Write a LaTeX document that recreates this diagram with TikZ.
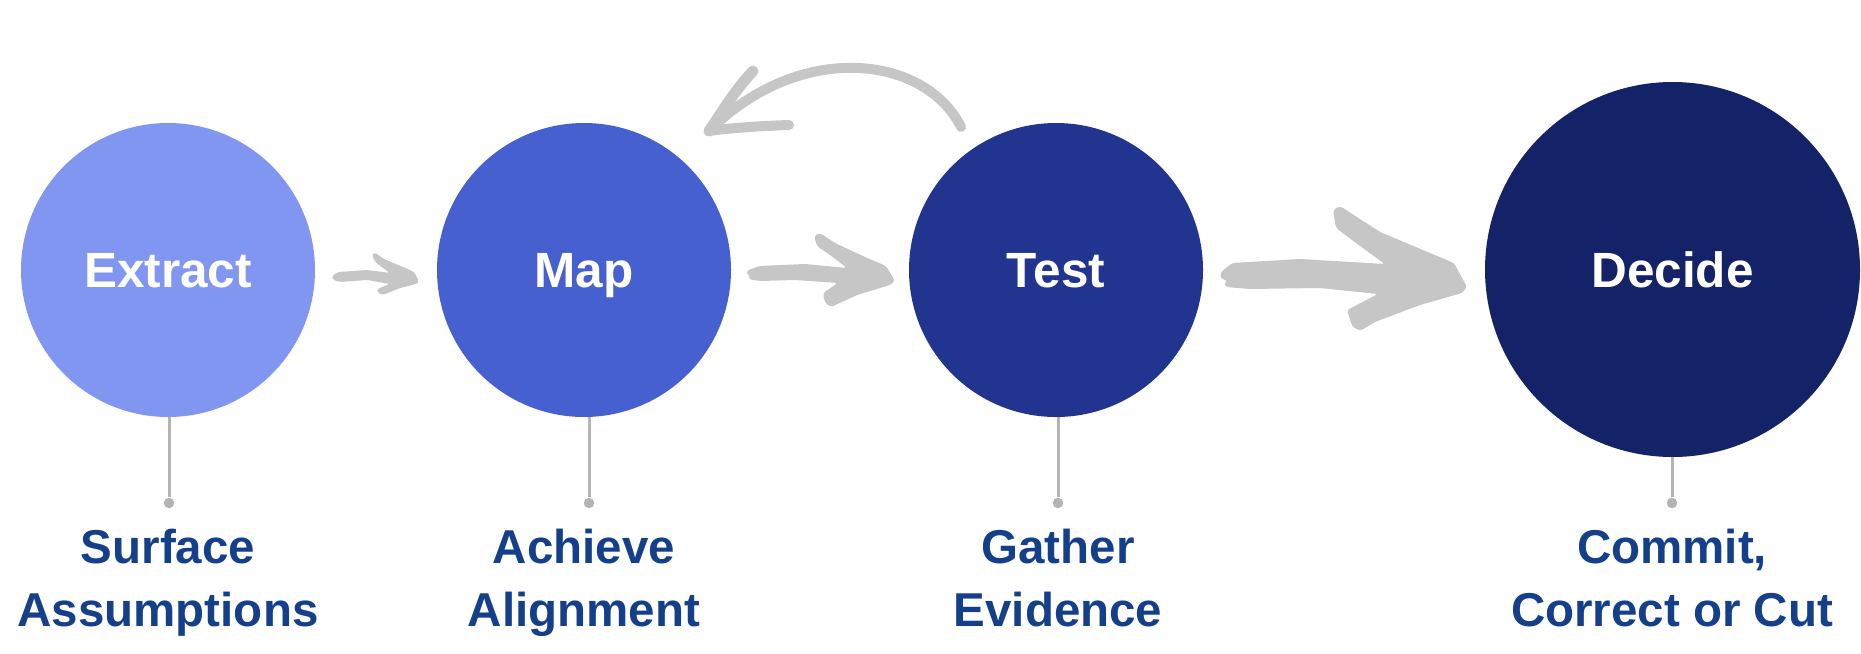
\documentclass[tikz,border=0pt]{standalone}
\usepackage{fontspec}
\setmainfont{Liberation Sans}
\usetikzlibrary{calc}
\definecolor{cExtract}{HTML}{8196F0}
\definecolor{cMap}{HTML}{4760D0}
\definecolor{cTest}{HTML}{213490}
\definecolor{cDecide}{HTML}{142268}
\definecolor{lblblue}{HTML}{143F8A}
\definecolor{arrowgray}{HTML}{C6C6C6}
\definecolor{stemgray}{HTML}{B4B4B4}
\begin{document}
\begin{tikzpicture}[x=0.5pt,y=-0.5pt,
  stage/.style={circle, inner sep=0pt, text=white, text height=17.7pt, text depth=0pt,
    font=\fontsize{24.75}{30}\selectfont\bfseries},
  lbl/.style={align=center, text=lblblue, inner sep=0pt,
    font=\fontsize{23.75}{31.5}\selectfont\bfseries},
  stem/.style={draw=stemgray, line width=1.5pt},
  stemdot/.style={circle, fill=stemgray, inner sep=0pt, minimum size=5.25pt},
  brush/.style={draw=arrowgray, line cap=round, line join=round},
  brushfill/.style={fill=arrowgray, rounded corners=1.5pt}]
\path[use as bounding box] (0,0) rectangle (1861,653);

% stages
\node[stage, fill=cExtract, minimum size=147pt] (ext) at (168,270) {Extract};
\node[stage, fill=cMap, minimum size=147pt] (map) at (584,270) {Map};
\node[stage, fill=cTest, minimum size=147pt] (tst) at (1056,270) {Test};
\node[stage, fill=cDecide, minimum size=187.5pt] (dec) at (1672.5,269.5) {Decide};

% stems and dots
\node[stemdot] (d1) at (169,503) {};
\node[stemdot] (d2) at (589,503) {};
\node[stemdot] (d3) at (1058,503) {};
\node[stemdot] (d4) at (1672,503) {};
\draw[stem] (ext.south -| d1) -- (d1);
\draw[stem] (map.south -| d2) -- (d2);
\draw[stem] (tst.south -| d3) -- (d3);
\draw[stem] (dec.south -| d4) -- (d4);

% labels (base anchor = baseline of last line)
\node[lbl, anchor=base] (l1) at (168,626) {Surface\\Assumptions};
\node[lbl, anchor=base] (l2) at (584,626) {Achieve\\Alignment};
\node[lbl, anchor=base] (l3) at (1058,626) {Gather\\Evidence};
\node[lbl, anchor=base] (l4) at (1672,626) {Commit,\\Correct or Cut};

% arrow Extract -> Map (brush shape)
\fill[brushfill] (332,276) -- (338,272) -- (367,270) -- (390,273) -- (376,263)
  -- (372,256) -- (374,252) -- (384,259) -- (410,270) -- (415,273) -- (419,282)
  -- (416,284) -- (400,288) -- (383,295) -- (378,293) -- (377,289) -- (390,284)
  -- (367,280) -- (340,282) -- (333,280) -- cycle;

% arrow Map -> Test (brush shape)
\fill[brushfill] (748,270) -- (760,266) -- (805,264) -- (847,268) -- (830,255)
  -- (817,246) -- (814,236) -- (820,233) -- (835,243) -- (865,257) -- (886,266)
  -- (895,281) -- (890,285) -- (857,295) -- (831,307) -- (825,303) -- (823,293)
  -- (838,283) -- (795,280) -- (760,281) -- (748,279) -- (751,276) -- (746,274) -- cycle;

% arrow Test -> Decide (brush shape)
\fill[brushfill] (1221,272) -- (1232,263) -- (1300,259) -- (1385,264) -- (1360,246)
  -- (1336,228) -- (1333,210) -- (1340,206) -- (1380,232) -- (1430,253) -- (1454,263)
  -- (1467,287) -- (1462,293) -- (1420,305) -- (1375,322) -- (1360,331) -- (1352,326)
  -- (1347,310) -- (1378,294) -- (1320,288) -- (1250,289) -- (1226,287) -- (1224,283)
  -- (1228,281) -- (1220,278) -- cycle;

% curved arrow Test -> Map
\coordinate (cs) at (961,127);
\coordinate (ct) at (709,131);
\coordinate (cu) at (753,71);
\coordinate (cl) at (789,125);
\draw[brush, line width=5pt] (cs) .. controls (925,55) and (800,40) .. (ct);
\draw[brush, line width=5.5pt] (cu) .. controls (735,90) and (722,112) .. (ct);
\draw[brush, line width=5pt] (cl) .. controls (760,126) and (730,128) .. (ct);
\end{tikzpicture}
\end{document}
